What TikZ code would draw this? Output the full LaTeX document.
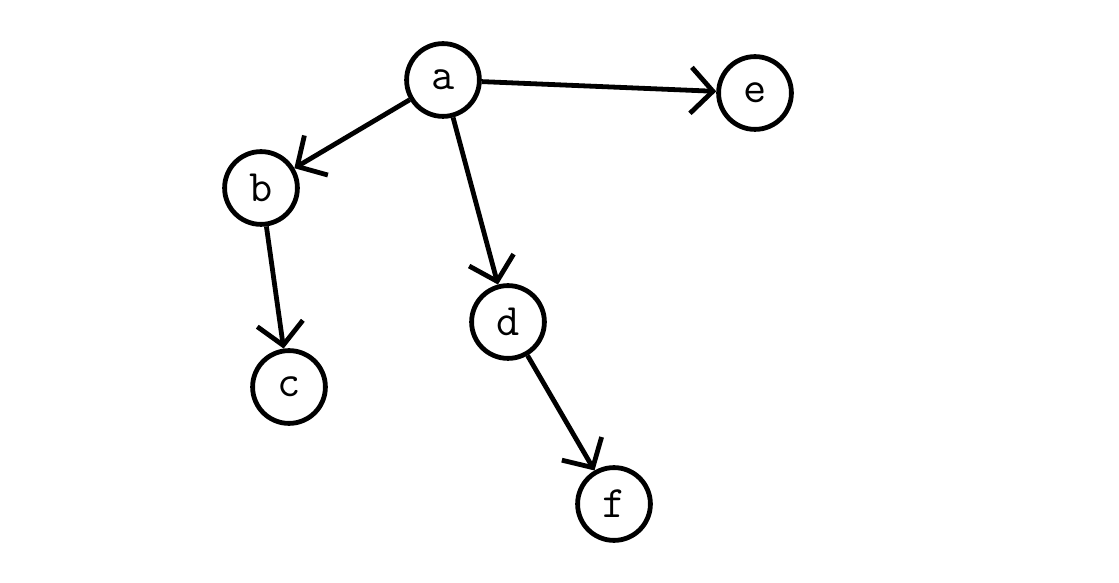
\documentclass[tikz,border=0pt]{standalone}
\usetikzlibrary{arrows.meta}
\begin{document}
\begin{tikzpicture}[
    every node/.style={
        circle,
        draw,
        line width=0.12cm,
        minimum size=1.82cm,
        inner sep=0pt,
        font=\ttfamily\fontsize{32}{32}\selectfont,
    },
    >={Straight Barb[length=0.55cm,width=1.15cm,line width=0.12cm]},
    line width=0.12cm
]
\useasboundingbox (0,0) rectangle (27.975,14.55);

\node (a) at (11.075,12.55) {a};
\node (b) at (6.525,9.85) {b};
\node (c) at (7.225,4.875) {c};
\node (d) at (12.7,6.5) {d};
\node (e) at (18.875,12.225) {e};
\node (f) at (15.35,1.95) {f};

\draw[->] (a) -- (b);
\draw[->] (a) -- (e);
\draw[->] (a) -- (d);
\draw[->] (b) -- (c);
\draw[->] (d) -- (f);

\end{tikzpicture}
\end{document}
